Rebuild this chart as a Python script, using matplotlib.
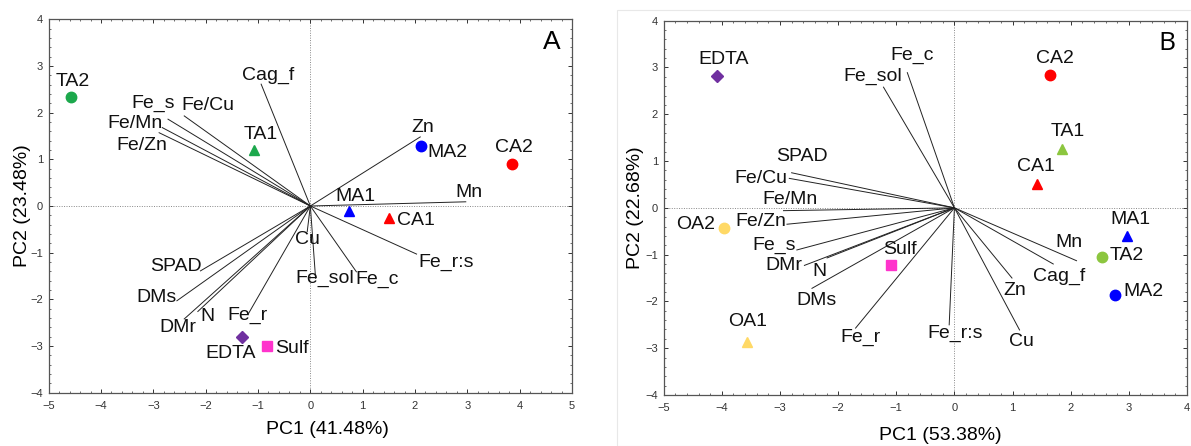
import matplotlib
matplotlib.use("Agg")
import matplotlib.pyplot as plt
from matplotlib.ticker import MultipleLocator
from matplotlib.patches import Rectangle

plt.rcParams['font.family'] = ['Liberation Sans', 'DejaVu Sans']

# ---- panel A : loadings (variables) and scores (treatments)
varsA = ['Cag_f', 'Fe/Cu', 'Fe_s', 'Fe/Mn', 'Fe/Zn', 'Zn', 'Mn', 'SPAD', 'DMs',
         'DMr', 'N', 'Fe_r', 'Cu', 'Fe_sol', 'Fe_c', 'Fe_r:s']
loadA_x = [-0.94, -2.41, -2.72, -2.83, -2.89, 2.10, 2.97, -2.10, -2.55,
           -2.41, -2.15, -1.18, -0.06, 0.10, 0.88, 2.03]
loadA_y = [2.61, 1.93, 1.86, 1.68, 1.57, 1.48, 0.09, -1.39, -2.03,
           -2.42, -2.26, -2.30, -0.55, -1.55, -1.41, -1.03]

trtA = ['TA2', 'TA1', 'MA2', 'CA2', 'MA1', 'CA1', 'EDTA', 'Sulf']
scoreA_x = [-4.57, -1.07, 2.11, 3.86, 0.73, 1.51, -1.31, -0.83]
scoreA_y = [2.34, 1.20, 1.28, 0.91, -0.10, -0.26, -2.80, -3.01]

# ---- panel B
varsB = ['Fe_c', 'Fe_sol', 'SPAD', 'Fe/Cu', 'Fe/Mn', 'Fe/Zn', 'Fe_s', 'DMr',
         'N', 'DMs', 'Fe_r', 'Fe_r:s', 'Cu', 'Zn', 'Cag_f', 'Mn']
loadB_x = [-0.81, -1.22, -2.80, -2.84, -2.94, -2.88, -2.71, -2.58,
           -2.19, -2.45, -1.70, -0.09, 1.12, 0.99, 1.70, 2.10]
loadB_y = [2.89, 2.58, 0.75, 0.63, -0.06, -0.35, -0.90, -1.23,
           -1.07, -1.72, -2.57, -2.50, -2.61, -1.50, -1.20, -1.13]

trtB = ['EDTA', 'CA2', 'TA1', 'CA1', 'MA1', 'TA2', 'MA2', 'Sulf', 'OA2', 'OA1']
scoreB_x = [-4.09, 1.64, 1.85, 1.42, 2.96, 2.53, 2.77, -1.09, -3.96, -3.56]
scoreB_y = [2.81, 2.84, 1.25, 0.52, -0.60, -1.04, -1.86, -1.22, -0.43, -2.86]

# marker style per treatment (shape, colour)
sty = {
    'TA2_A': ('o', '#1ca84c'), 'TA1_A': ('^', '#1ca84c'),
    'MA2': ('o', '#0000ff'), 'MA1': ('^', '#0000ff'),
    'CA2': ('o', '#ff0000'), 'CA1': ('^', '#ff0000'),
    'EDTA': ('D', '#7030a0'), 'Sulf': ('s', '#ff33cc'),
    'TA2_B': ('o', '#8cc63f'), 'TA1_B': ('^', '#8cc63f'),
    'OA2': ('o', '#ffd966'), 'OA1': ('^', '#ffd966'),
}

# label offsets in pixels (dx, dy) from the end of each arrow / marker
offA_var = {'Cag_f': (7, 9), 'Fe/Cu': (24, 10), 'Fe_s': (-15, 16), 'Fe/Mn': (-27, 4),
            'Fe/Zn': (-17, -13), 'Zn': (3, 9), 'Mn': (3, 9), 'SPAD': (-25, 4),
            'DMs': (-20, 3), 'DMr': (-6, -9), 'N': (10, -5), 'Fe_r': (-1, -2),
            'Cu': (0, -8), 'Fe_sol': (9, 0), 'Fe_c': (21, -8), 'Fe_r:s': (30, -8)}
offA_trt = {'TA2': (2, 15), 'TA1': (6, 15), 'MA2': (27, -6), 'CA2': (2, 16),
            'MA1': (7, 14), 'CA1': (27, -2), 'EDTA': (-11, -17), 'Sulf': (25, -2)}
offB_var = {'Fe_c': (5, 17), 'Fe_sol': (-11, 11), 'SPAD': (10, 16), 'Fe/Cu': (-28, 0),
            'Fe/Mn': (7, 11), 'Fe/Zn': (-26, 3), 'Fe_s': (-23, 5), 'DMr': (-21, 0),
            'N': (-8, -14), 'DMs': (5, -12), 'Fe_r': (5, -9), 'Fe_r:s': (6, -9),
            'Cu': (2, -12), 'Zn': (3, -12), 'Cag_f': (6, -12), 'Mn': (-8, 18)}
offB_trt = {'EDTA': (7, 17), 'CA2': (5, 16), 'TA1': (6, 18), 'CA1': (-1, 17),
            'MA1': (4, 16), 'TA2': (25, 1), 'MA2': (28, 3), 'Sulf': (9, 15),
            'OA2': (-29, 3), 'OA1': (0, 20)}

FS = 14


def biplot(ax, names, lx, ly, trt, sx, sy, offv, offt, tag, xlim, xlab, ylab,
           letter, letter_font, xlab_pos, ylab_pos):
    ax.axhline(0, color='#888888', lw=0.7, ls=(0, (1, 1.5)), zorder=0)
    ax.axvline(0, color='#888888', lw=0.7, ls=(0, (1, 1.5)), zorder=0)
    for n, x, y in zip(names, lx, ly):
        ax.plot([0, x], [0, y], color='#222222', lw=0.7, zorder=1)
        ax.annotate(n, (x, y), xytext=offv[n], textcoords='offset pixels',
                    ha='center', va='center', fontsize=FS, color='#111111')
    for n, x, y in zip(trt, sx, sy):
        key = n + '_' + tag if (n + '_' + tag) in sty else n
        m, c = sty[key]
        ms = 6.5 if m == 'D' else 7.5
        ax.plot(x, y, marker=m, color=c, ms=ms, ls='none', zorder=3)
        ax.annotate(n, (x, y), xytext=offt[n], textcoords='offset pixels',
                    ha='center', va='center', fontsize=FS, color='#111111')
    ax.set_xlim(*xlim)
    ax.set_ylim(-4, 4)
    ax.xaxis.set_major_locator(MultipleLocator(1))
    ax.yaxis.set_major_locator(MultipleLocator(1))
    ax.xaxis.set_minor_locator(MultipleLocator(0.2))
    ax.yaxis.set_minor_locator(MultipleLocator(0.2))
    ax.tick_params(which='both', direction='in', top=True, right=True,
                   labelsize=8, colors='#333333')
    ax.tick_params(axis='x', pad=6)
    ax.tick_params(axis='y', pad=4)
    ax.tick_params(which='major', length=3, width=0.7)
    ax.tick_params(which='minor', length=1.5, width=0.5)
    for s in ax.spines.values():
        s.set_color('#555555')
        s.set_linewidth(0.9)
    ax.set_xlabel(xlab, fontsize=FS)
    ax.set_ylabel(ylab, fontsize=FS)
    ax.xaxis.set_label_coords(*xlab_pos)
    ax.yaxis.set_label_coords(*ylab_pos)
    ax.text(0.961, 0.94, letter, transform=ax.transAxes, ha='center', va='center',
            fontsize=19, family=letter_font)


fig = plt.figure(figsize=(11.91, 4.46), dpi=100)

# light frame around the right panel
fig.patches.append(Rectangle((617 / 1191, 0), 574 / 1191, 436 / 446, transform=fig.transFigure,
                             fill=False, ec='#e8e8e8', lw=0.8))

axA = fig.add_axes([48.7 / 1191, 1 - 392.7 / 446, 523.3 / 1191, 373.4 / 446])
axB = fig.add_axes([663.7 / 1191, 1 - 395 / 446, 523.3 / 1191, 374.3 / 446])

biplot(axA, varsA, loadA_x, loadA_y, trtA, scoreA_x, scoreA_y, offA_var, offA_trt, 'A',
       (-5, 5), 'PC1 (41.48%)', 'PC2 (23.48%)', 'A', 'Liberation Sans',
       (0.532, -0.076), (-0.033, 0.5))
biplot(axB, varsB, loadB_x, loadB_y, trtB, scoreB_x, scoreB_y, offB_var, offB_trt, 'B',
       (-5, 4), 'PC1 (53.38%)', 'PC2 (22.68%)', 'B', 'Open Sans',
       (0.528, -0.085), (-0.038, 0.5))

fig.savefig('out.png', dpi=100)
